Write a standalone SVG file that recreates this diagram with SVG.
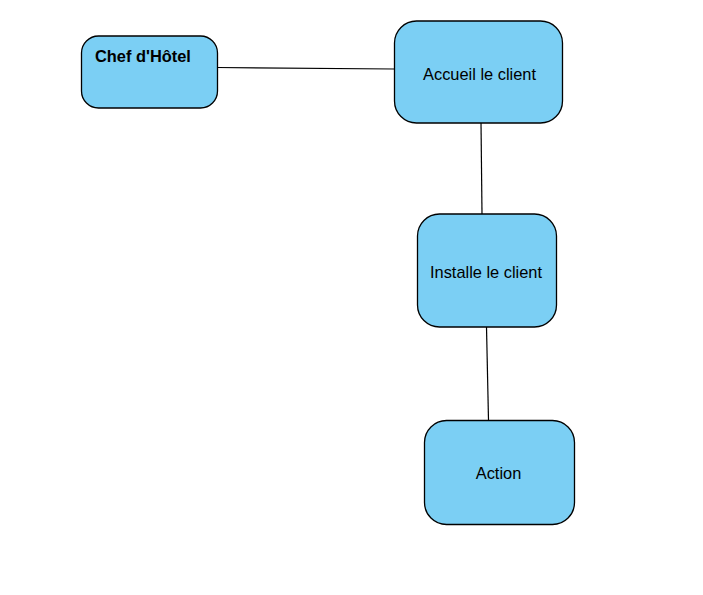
<svg xmlns="http://www.w3.org/2000/svg" width="703" height="595" viewBox="0 0 703 595">
<style>
.node{fill:#7bcff4;stroke:#000;stroke-width:1.3}
.lbl{font-family:"Liberation Sans",Arial,sans-serif;font-size:16.4px;fill:#000}
.edge{stroke:#000;stroke-width:1.2;fill:none}
</style>
<rect width="703" height="595" fill="#fff"/>
<g id="connectors">
<line class="edge" x1="217" y1="67.5" x2="394.5" y2="69"/>
<line class="edge" x1="481" y1="122" x2="482" y2="214"/>
<line class="edge" x1="486.5" y1="327" x2="488.5" y2="420.5"/>
</g>
<g id="chef">
<rect class="node" x="81.5" y="36" width="136" height="72" rx="17"/>
<text class="lbl" x="95" y="62" font-weight="bold" font-size="16px">Chef d'Hôtel</text>
</g>
<g id="accueil">
<rect class="node" x="394.5" y="21" width="168" height="102" rx="22"/>
<text class="lbl" x="479.5" y="80" text-anchor="middle">Accueil le client</text>
</g>
<g id="installe">
<rect class="node" x="417.5" y="214" width="139" height="113" rx="22"/>
<text class="lbl" x="486" y="278" text-anchor="middle">Installe le client</text>
</g>
<g id="action">
<rect class="node" x="424.5" y="420.5" width="150" height="104" rx="22"/>
<text class="lbl" x="498.5" y="479" text-anchor="middle">Action</text>
</g>
</svg>
